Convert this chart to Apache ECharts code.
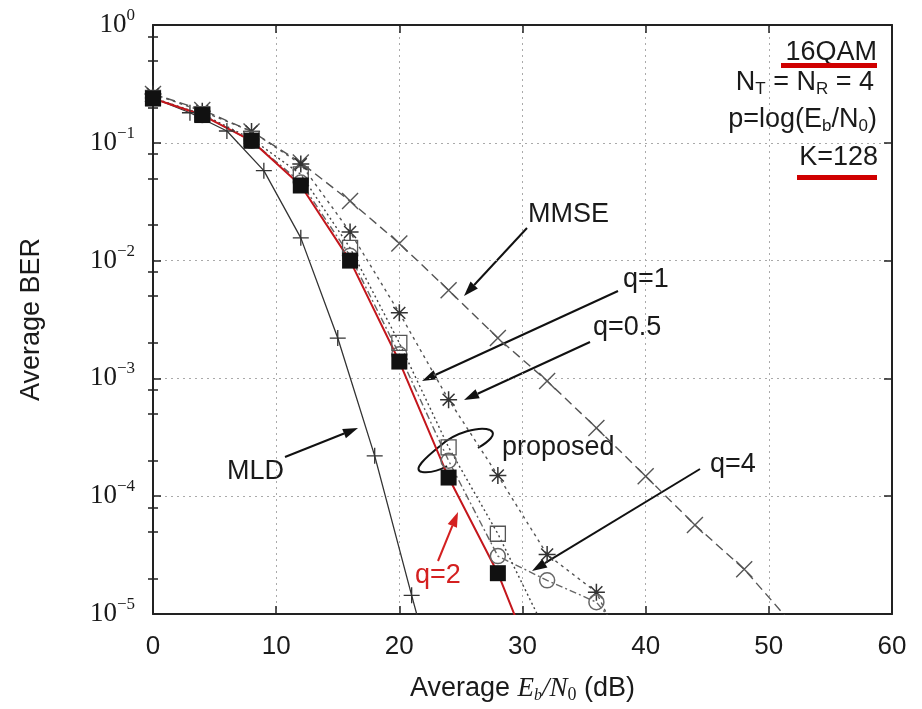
<!DOCTYPE html>
<html>
<head>
<meta charset="utf-8">
<script src="https://cdn.jsdelivr.net/npm/echarts@6/dist/echarts.min.js"></script>
<style>
  html, body { margin: 0; padding: 0; background: #fff; }
  #main { width: 922px; height: 709px; }
</style>
</head>
<body>
<div id="main"></div>
<script>
// values (Eb/N0 in dB, BER)
const snrMLD = [0, 3, 6, 9, 12, 15, 18, 21, 24];
const berMLD = [0.24, 0.18, 0.126, 0.058, 0.0156, 0.0022, 2.2e-4, 1.44e-5, 1e-6];

const snrMMSE = [0, 4, 8, 12, 16, 20, 24, 28, 32, 36, 40, 44, 48, 52];
const berMMSE = [0.26, 0.19, 0.125, 0.068, 0.032, 0.014, 0.0056, 0.0022, 9.5e-4, 3.8e-4, 1.48e-4, 5.7e-5, 2.4e-5, 8e-6];

const snrQ05 = [0, 4, 8, 12, 16, 20, 24, 28, 32, 36, 40];
const berQ05 = [0.26, 0.185, 0.125, 0.066, 0.0175, 0.0036, 6.6e-4, 1.5e-4, 3.2e-5, 1.53e-5, 2e-6];

const snrQ1 = [0, 4, 8, 12, 16, 20, 24, 28, 32];
const berQ1 = [0.24, 0.175, 0.108, 0.054, 0.0128, 0.002, 2.6e-4, 4.8e-5, 6.7e-6];

const snrQ4 = [0, 4, 8, 12, 16, 20, 24, 28, 32, 36, 40];
const berQ4 = [0.24, 0.172, 0.104, 0.046, 0.011, 0.0016, 2.0e-4, 3.1e-5, 1.93e-5, 1.26e-5, 4e-6];

const snrQ2 = [0, 4, 8, 12, 16, 20, 24, 28, 32];
const berQ2 = [0.238, 0.172, 0.104, 0.0434, 0.01, 0.00139, 1.44e-4, 2.22e-5, 2e-6];

const xTicks = [0, 10, 20, 30, 40, 50, 60];
// minor ticks seen on the BER axis: 2, 5 and 8 of every decade
const yMinorTicks = [1e-5, 1e-4, 1e-3, 1e-2, 1e-1].flatMap(d => [2 * d, 5 * d, 8 * d]);

const PLUS = 'path://M5,0L5,10M0,5L10,5';
const CROSS = 'path://M0,0L10,10M10,0L0,10';
const STAR = 'path://M5,0L5,10M0,5L10,5M1.5,1.5L8.5,8.5M8.5,1.5L1.5,8.5';
const BOX = 'path://M0,0L10,0L10,10L0,10Z';

function pairs(xs, ys) {
  return xs.map((x, i) => [x, ys[i]]);
}

function arrow(x1, y1, x2, y2, color) {
  const a = Math.atan2(y2 - y1, x2 - x1);
  const L = 15, W = 5;
  const bx = x2 - L * Math.cos(a), by = y2 - L * Math.sin(a);
  const px = -Math.sin(a) * W, py = Math.cos(a) * W;
  return [
    { type: 'line', shape: { x1: x1, y1: y1, x2: bx, y2: by }, style: { stroke: color, lineWidth: 2 } },
    { type: 'polygon', shape: { points: [[x2, y2], [bx + px, by + py], [bx - px, by - py]] }, style: { fill: color } }
  ];
}

function curve(p) {
  return {
    type: 'bezierCurve',
    shape: { x1: p[0], y1: p[1], cpx1: p[2], cpy1: p[3], cpx2: p[4], cpy2: p[5], x2: p[6], y2: p[7] },
    style: { stroke: '#111', lineWidth: 2, fill: null }
  };
}

function label(text, x, y, color, align) {
  return {
    type: 'text', x: x, y: y,
    style: {
      text: text, fill: color || '#1a1a1a', fontSize: 27, fontFamily: 'Liberation Sans',
      align: align || 'left', verticalAlign: 'middle'
    }
  };
}

function minorAxis(position) {
  return {
    type: 'log', logBase: 10, min: 1e-5, max: 1, position: position,
    axisLine: { show: false },
    axisTick: { show: true, inside: true, length: 5, customValues: yMinorTicks, lineStyle: { color: '#222', width: 1.5 } },
    axisLabel: { show: false }, splitLine: { show: false }
  };
}

const sub = { fontSize: 17, fontFamily: 'Liberation Sans', fill: '#1a1a1a', verticalAlign: 'bottom', lineHeight: 22 };
const big = { fontSize: 27, fontFamily: 'Liberation Sans', fill: '#1a1a1a', lineHeight: 30 };

const axisBorder = { show: true, onZero: false, lineStyle: { color: '#222', width: 2 } };
const dotted = { show: true, lineStyle: { color: '#aaa', width: 1, type: [2, 4] } };

const myChart = echarts.init(document.getElementById('main'));

const option = {
  animation: false,
  backgroundColor: '#fff',
  grid: { left: 153, right: 30, top: 25, bottom: 92 },
  xAxis: [
    {
      type: 'value', min: 0, max: 60, interval: 10, position: 'bottom',
      axisLine: axisBorder,
      axisTick: { inside: true, length: 8, lineStyle: { color: '#222', width: 1.5 } },
      axisLabel: {
        margin: 20, fontSize: 26, fontFamily: 'Liberation Sans', color: '#1a1a1a',
        formatter: v => xTicks.includes(v) ? String(v) : ''
      },
      splitLine: dotted,
      name: 'Average {i|E}{is|b}{i|/N}{s|0} (dB)',
      nameLocation: 'middle', nameGap: 60,
      nameTextStyle: {
        fontSize: 27, fontFamily: 'Liberation Sans', color: '#1a1a1a', lineHeight: 30,
        rich: {
          i: { fontSize: 27, fontFamily: 'Liberation Serif', fontStyle: 'italic', color: '#1a1a1a', lineHeight: 30 },
          is: { fontSize: 16, fontFamily: 'Liberation Serif', fontStyle: 'italic', color: '#1a1a1a', verticalAlign: 'bottom', lineHeight: 20 },
          s: { fontSize: 18, fontFamily: 'Liberation Serif', color: '#1a1a1a', verticalAlign: 'bottom', lineHeight: 22 }
        }
      }
    },
    {
      type: 'value', min: 0, max: 60, interval: 10, position: 'top',
      axisLine: axisBorder,
      axisTick: { inside: true, length: 8, lineStyle: { color: '#222', width: 1.5 } },
      axisLabel: { show: false }, splitLine: { show: false }
    }
  ],
  yAxis: [
    {
      type: 'log', logBase: 10, min: 1e-5, max: 1, position: 'left',
      axisLine: axisBorder,
      axisTick: { inside: true, length: 8, lineStyle: { color: '#222', width: 1.5 } },
      axisLabel: {
        margin: 18,
        formatter: v => {
          const e = Math.round(Math.log10(v));
          return '{b|10}{s|' + (e === 0 ? '0' : '\u2212' + Math.abs(e)) + '}';
        },
        rich: {
          b: { fontSize: 27, fontFamily: 'Liberation Serif', color: '#1a1a1a', lineHeight: 36 },
          s: { fontSize: 17, fontFamily: 'Liberation Serif', color: '#1a1a1a', verticalAlign: 'top' }
        }
      },
      splitLine: dotted,
      name: 'Average BER', nameLocation: 'middle', nameGap: 108, nameRotate: 90,
      nameTextStyle: { fontSize: 27, fontFamily: 'Liberation Sans', color: '#1a1a1a' }
    },
    {
      type: 'log', logBase: 10, min: 1e-5, max: 1, position: 'right',
      axisLine: axisBorder,
      axisTick: { inside: true, length: 8, lineStyle: { color: '#222', width: 1.5 } },
      axisLabel: { show: false }, splitLine: { show: false }
    },
    minorAxis('left'),
    minorAxis('right')
  ],
  series: [
    {
      name: 'MMSE', type: 'line', clip: true, data: pairs(snrMMSE, berMMSE),
      symbol: CROSS, symbolSize: 16,
      lineStyle: { color: '#555', width: 1.4, type: [9, 5] },
      itemStyle: { color: 'rgba(0,0,0,0)', borderColor: '#555', borderWidth: 1.4 }
    },
    {
      name: 'MLD', type: 'line', clip: true, data: pairs(snrMLD, berMLD),
      symbol: PLUS, symbolSize: 16,
      lineStyle: { color: '#333', width: 1.3 },
      itemStyle: { color: 'rgba(0,0,0,0)', borderColor: '#333', borderWidth: 1.3 }
    },
    {
      name: 'q=0.5', type: 'line', clip: true, data: pairs(snrQ05, berQ05),
      symbol: STAR, symbolSize: 17,
      lineStyle: { color: '#555', width: 1.4, type: [3, 4] },
      itemStyle: { color: 'rgba(0,0,0,0)', borderColor: '#333', borderWidth: 1.5 }
    },
    {
      name: 'q=4', type: 'line', clip: true, data: pairs(snrQ4, berQ4),
      symbol: 'circle', symbolSize: 15,
      lineStyle: { color: '#666', width: 1.4, type: [7, 3, 2, 3] },
      itemStyle: { color: 'rgba(0,0,0,0)', borderColor: '#666', borderWidth: 1.5 }
    },
    {
      name: 'q=1', type: 'line', clip: true, data: pairs(snrQ1, berQ1),
      symbol: BOX, symbolSize: 15,
      lineStyle: { color: '#444', width: 1.4, type: [2, 3] },
      itemStyle: { color: 'rgba(0,0,0,0)', borderColor: '#555', borderWidth: 1.3 }
    },
    {
      name: 'q=2', type: 'line', clip: true, data: pairs(snrQ2, berQ2),
      symbol: 'rect', symbolSize: 16,
      lineStyle: { color: '#c4161c', width: 2 },
      itemStyle: { color: '#111' }
    }
  ],
  graphic: [
    // parameter block, top right
    {
      type: 'text', x: 877, y: 53,
      style: { text: '16QAM', fontSize: 27, fontFamily: 'Liberation Sans', fill: '#1a1a1a', align: 'right', verticalAlign: 'middle' }
    },
    { type: 'rect', shape: { x: 781, y: 63, width: 96, height: 5 }, style: { fill: '#d00000' } },
    {
      type: 'text', x: 874, y: 83,
      style: {
        text: '{n|N}{s|T}{n| = N}{s|R}{n| = 4}', align: 'right', verticalAlign: 'middle',
        rich: { n: big, s: sub }
      }
    },
    {
      type: 'text', x: 877, y: 120,
      style: {
        text: '{n|p=log(E}{s|b}{n|/N}{s|0}{n|)}', align: 'right', verticalAlign: 'middle',
        rich: { n: big, s: sub }
      }
    },
    {
      type: 'text', x: 878, y: 158,
      style: { text: 'K=128', fontSize: 27, fontFamily: 'Liberation Sans', fill: '#1a1a1a', align: 'right', verticalAlign: 'middle' }
    },
    { type: 'rect', shape: { x: 797, y: 175, width: 80, height: 5 }, style: { fill: '#d00000' } },

    // curve annotations
    label('MMSE', 528, 215),
    ...arrow(527, 228, 464, 296, '#111'),
    label('q=1', 623, 280),
    ...arrow(618, 291, 422, 381, '#111'),
    label('q=0.5', 593, 328),
    ...arrow(590, 342, 464, 400, '#111'),
    label('q=4', 710, 465),
    ...arrow(700, 469, 532, 571, '#111'),
    label('MLD', 227, 472),
    ...arrow(285, 457, 358, 428, '#111'),
    label('proposed', 502, 448),
    label('q=2', 415, 576, '#d42020'),
    ...arrow(438, 561, 458, 512, '#d42020'),
    // loop grouping the proposed curves
    curve([478, 448, 488, 442, 498, 434, 490, 430]),
    curve([490, 430, 480, 426, 455, 432, 440, 446]),
    curve([440, 446, 425, 458, 412, 470, 422, 472]),
    curve([422, 472, 430, 473, 440, 470, 447, 466])
  ]
};

myChart.setOption(option);
</script>
</body>
</html>
